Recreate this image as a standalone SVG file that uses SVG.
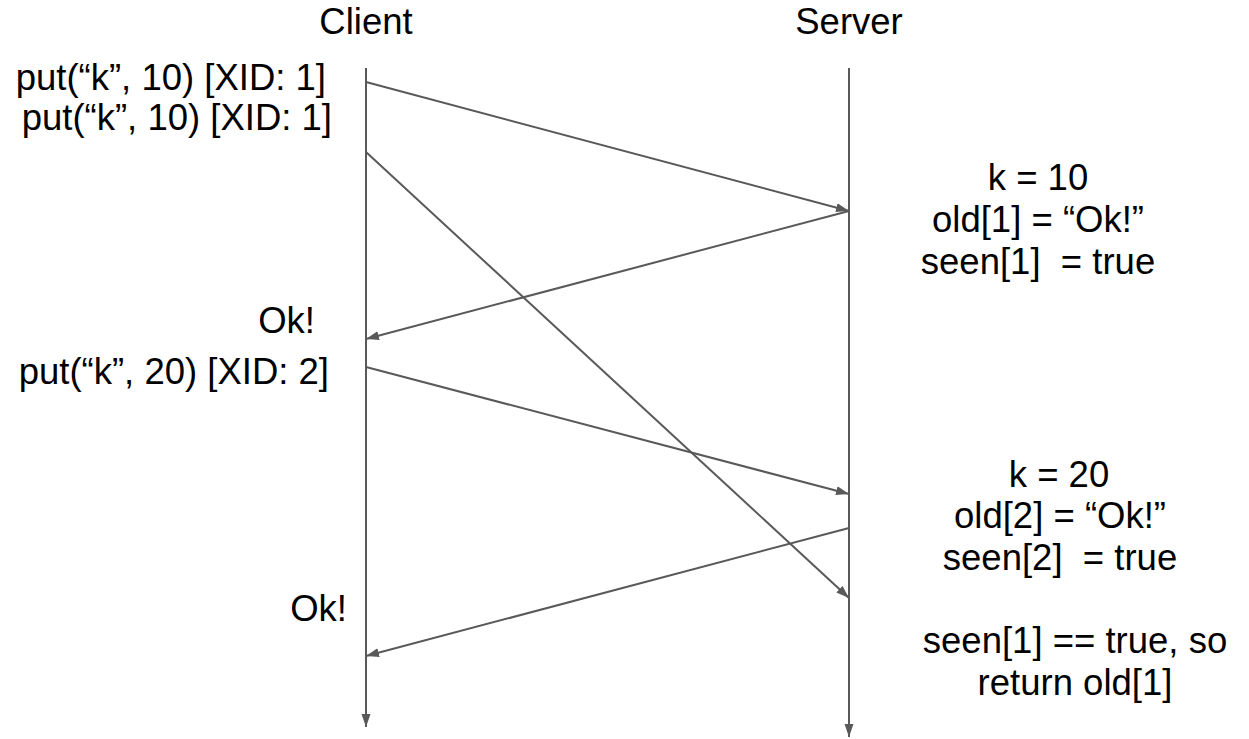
<svg xmlns="http://www.w3.org/2000/svg" width="1249" height="739" viewBox="0 0 1249 739">
<style>
text{font-family:"Liberation Sans",Arial,sans-serif;font-size:36.5px;fill:#000;white-space:pre}
.l{text-anchor:end}
.c{text-anchor:middle}
.ln{stroke:#595959;stroke-width:2;fill:none}
</style>
<defs>
<marker id="ah" markerUnits="userSpaceOnUse" markerWidth="14" markerHeight="10" refX="13" refY="5" orient="auto">
<path d="M0,0.5 L13,5 L0,9.5 z" fill="#595959"/>
</marker>
</defs>
<g id="client"><text class="c" x="366" y="34">Client</text></g>
<g id="server"><text class="c" x="849" y="34">Server</text></g>
<g id="connectors">
<line class="ln" x1="366" y1="68" x2="366" y2="727" marker-end="url(#ah)"/>
<line class="ln" x1="849" y1="68" x2="849" y2="737" marker-end="url(#ah)"/>
<line class="ln" x1="366" y1="82" x2="849" y2="211" marker-end="url(#ah)"/>
<line class="ln" x1="366" y1="152" x2="849" y2="598" marker-end="url(#ah)"/>
<line class="ln" x1="849" y1="211" x2="366" y2="339" marker-end="url(#ah)"/>
<line class="ln" x1="366" y1="367" x2="849" y2="494" marker-end="url(#ah)"/>
<line class="ln" x1="849" y1="528" x2="366" y2="656" marker-end="url(#ah)"/>
</g>
<g id="client-labels">
<text class="l" x="326" y="90">put(“k”, 10) [XID: 1]</text>
<text class="l" x="332" y="130">put(“k”, 10) [XID: 1]</text>
<text class="l" x="315" y="333">Ok!</text>
<text class="l" x="329" y="384">put(“k”, 20) [XID: 2]</text>
<text class="l" x="347" y="621">Ok!</text>
</g>
<g id="server-labels">
<text class="c" x="1038" y="190">k = 10</text>
<text class="c" x="1038" y="232">old[1] = “Ok!”</text>
<text class="c" x="1038" y="274">seen[1]  = true</text>
<text class="c" x="1059" y="487">k = 20</text>
<text class="c" x="1060" y="528">old[2] = “Ok!”</text>
<text class="c" x="1060" y="570">seen[2]  = true</text>
<text class="c" x="1075" y="653">seen[1] == true, so</text>
<text class="c" x="1075" y="695">return old[1]</text>
</g>
</svg>
